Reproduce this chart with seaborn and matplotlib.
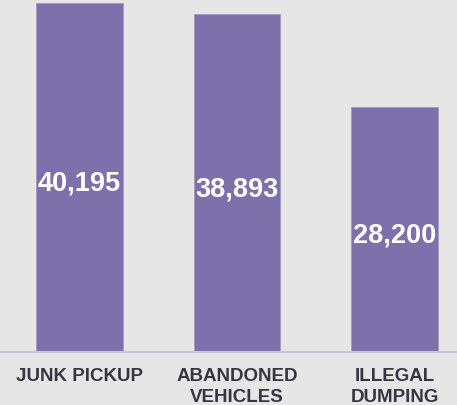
import matplotlib
matplotlib.use("Agg")
import matplotlib.pyplot as plt
import seaborn as sns
import pandas as pd

categories = ["JUNK PICKUP", "ABANDONED\nVEHICLES", "ILLEGAL\nDUMPING"]
counts = [40195, 38893, 28200]

bg = "#e6e6e6"
bar_color = "#7c71aa"
text_dark = "#363642"

sns.set_theme(style="white")
plt.rcParams["font.family"] = ["Liberation Sans", "DejaVu Sans"]

df = pd.DataFrame({"category": categories, "count": counts})

fig = plt.figure(figsize=(4.57, 4.06), dpi=100, facecolor=bg)
ax = fig.add_axes([0.0, 0.1305, 1.0, 0.8695])
ax.set_facecolor(bg)

sns.barplot(data=df, x="category", y="count", color=bar_color, saturation=1,
            width=0.552, edgecolor="#a39ac5", linewidth=0.6, ax=ax)

ax.set_ylim(0, max(counts) * 1.0115)
ax.set_xlim(-0.505, 2.397)

for i, v in enumerate(counts):
    ax.text(i, v / 2 - 600, f"{v:,}", ha="center", va="center", color="white",
            fontsize=19.5, fontweight="bold")

for s in ["top", "right", "left"]:
    ax.spines[s].set_visible(False)
ax.spines["bottom"].set_color("#c9c7d6")
ax.spines["bottom"].set_linewidth(1.5)

ax.set_yticks([])
ax.set_xlabel("")
ax.set_ylabel("")
ax.tick_params(axis="x", length=0, pad=11)
for lbl in ax.get_xticklabels():
    lbl.set_fontsize(13.5)
    lbl.set_fontweight("bold")
    lbl.set_color(text_dark)
    lbl.set_verticalalignment("top")
    lbl.set_linespacing(1.3)

fig.savefig("out.png", dpi=100, facecolor=bg)
